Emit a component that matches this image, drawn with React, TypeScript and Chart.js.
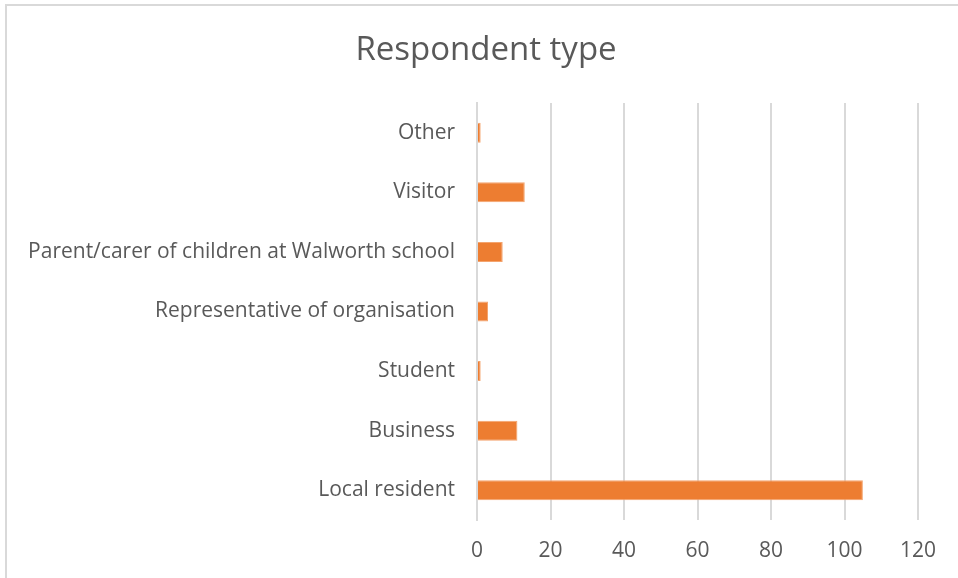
import React, { useEffect, useRef } from "react";
import { Chart, registerables } from "chart.js";

Chart.register(...registerables);

const categories = [
  "Other",
  "Visitor",
  "Parent/carer of children at Walworth school",
  "Representative of organisation",
  "Student",
  "Business",
  "Local resident",
];
const counts = [1, 13, 7, 3, 1, 11, 105];
const xTicksMin = 0;
const xTicksMax = 120;
const xTickStep = 20;
const chartTitle = "Respondent type";

const W = 958;
const H = 578;
const FONT = "'Open Sans', 'Noto Sans', sans-serif";

export default function App() {
  const ref = useRef<HTMLCanvasElement | null>(null);

  useEffect(() => {
    if (!ref.current) return;
    const bgPlugin = {
      id: "bgBorder",
      beforeDraw(chart: any) {
        const ctx = chart.ctx;
        ctx.save();
        ctx.fillStyle = "#ffffff";
        ctx.fillRect(0, 0, W, H);
        ctx.fillStyle = "#d9d9d9";
        ctx.fillRect(5, 4, W - 5, 2);
        ctx.fillRect(5, 4, 2, H - 4);
        ctx.fillStyle = "#595959";
        ctx.font = "33px 'Open Sans', sans-serif";
        ctx.textAlign = "center";
        ctx.textBaseline = "middle";
        ctx.fillText(chartTitle, 486, 51);
        ctx.restore();
      },
    };
    const chart = new Chart(ref.current, {
      type: "bar",
      data: {
        labels: categories,
        datasets: [
          {
            data: counts,
            backgroundColor: "#ED7D31",
            borderColor: "#F4A46E",
            borderWidth: 1,
            categoryPercentage: 1,
            barPercentage: 0.336,
          },
        ],
      },
      options: {
        indexAxis: "y",
        animation: false,
        responsive: false,
        devicePixelRatio: 1,
        layout: { padding: { top: 103, right: 40, left: 0, bottom: 0 } },
        plugins: {
          legend: { display: false },
          title: { display: false },
          tooltip: { enabled: false },
        },
        scales: {
          x: {
            min: xTicksMin,
            max: xTicksMax,
            ticks: {
              stepSize: xTickStep,
              color: "#595959",
              font: { family: FONT, size: 21 },
              padding: 18,
            },
            grid: { color: "#d9d9d9", lineWidth: 2, drawTicks: false },
            border: { display: false },
            afterFit(scale: any) {
              scale.height = 58;
            },
          },
          y: {
            ticks: {
              color: "#595959",
              font: { family: FONT, size: 21 },
              padding: 22,
            },
            grid: { display: false, drawTicks: false },
            border: { display: true, color: "#d9d9d9", width: 2 },
            afterFit(scale: any) {
              scale.width = 477;
            },
          },
        },
      },
      plugins: [bgPlugin],
    } as any);
    return () => chart.destroy();
  }, []);

  return (
    <div style={{ position: "fixed", left: 0, top: 0, width: W, height: H, background: "#fff" }}>
      <canvas ref={ref} width={W} height={H} style={{ display: "block", width: W, height: H }} />
    </div>
  );
}
